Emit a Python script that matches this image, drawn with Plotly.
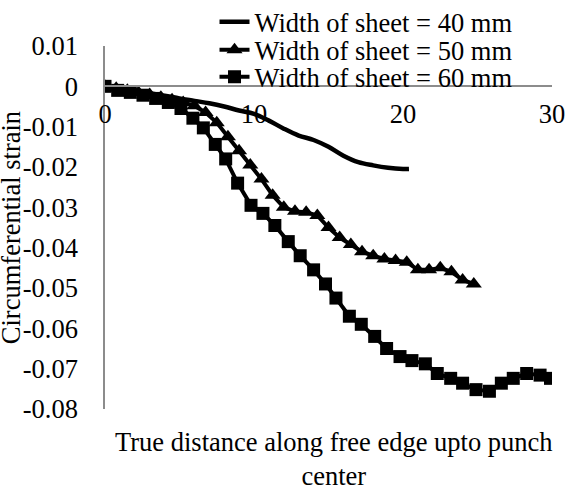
import plotly.graph_objects as go

# ---- data ----
x40 = [0, 1, 2, 3, 4, 5, 6, 7, 8, 9, 10, 11, 12, 13, 14, 15, 16, 17, 18, 19, 20, 20.4]
y40 = [0, -0.0005, -0.001, -0.0017, -0.0023, -0.003, -0.0036, -0.0042, -0.005, -0.006,
       -0.0068, -0.0085, -0.0105, -0.0122, -0.0133, -0.015, -0.0172, -0.0188, -0.0196,
       -0.0202, -0.0205, -0.0205]

x50 = [0, 0.75, 1.5, 2.25, 3, 3.75, 4.5, 5.25, 6, 6.75, 7.5, 8.25, 9, 9.75, 10.5, 11.25,
       12, 12.75, 13.5, 14.25, 15, 15.75, 16.5, 17.25, 18, 18.75, 19.5, 20.25, 21, 21.75,
       22.5, 23.25, 24, 24.75]
y50 = [0, -0.0005, -0.001, -0.0015, -0.002, -0.0027, -0.0033, -0.004, -0.0048, -0.0065,
       -0.009, -0.0125, -0.016, -0.0195, -0.023, -0.027, -0.0300, -0.0310, -0.0312, -0.0320,
       -0.0350, -0.0375, -0.0392, -0.0410, -0.042, -0.0428, -0.0432, -0.0436, -0.0455,
       -0.0455, -0.045, -0.046, -0.048, -0.049]

x60 = [0, 0.85, 1.7, 2.55, 3.4, 4.25, 5.1, 5.9, 6.6, 7.4, 8.1, 8.9, 9.8, 10.6, 11.4, 12.3,
       13.1, 14.0, 14.8, 15.5, 16.4, 17.2, 18.1, 18.9, 19.8, 20.6, 21.5, 22.3, 23.2, 24.0,
       24.9, 25.8, 26.6, 27.4, 28.3, 29.2, 29.9]
y60 = [0, -0.001, -0.0015, -0.0022, -0.003, -0.004, -0.0055, -0.0079, -0.0103, -0.0144,
       -0.0180, -0.0240, -0.0295, -0.0315, -0.0345, -0.0385, -0.0420, -0.0455, -0.0490,
       -0.0525, -0.0570, -0.0590, -0.0620, -0.0650, -0.0670, -0.0680, -0.0688, -0.0712,
       -0.0724, -0.0736, -0.0752, -0.0756, -0.0736, -0.0724, -0.0712, -0.0716, -0.0724]

names = ["Width of sheet = 40 mm", "Width of sheet = 50 mm", "Width of sheet = 60 mm"]
ytick_vals = [0.01, 0, -0.01, -0.02, -0.03, -0.04, -0.05, -0.06, -0.07, -0.08]
ytick_text = ["0.01", "0", "-0.01", "-0.02", "-0.03", "-0.04", "-0.05", "-0.06", "-0.07", "-0.08"]
xtick_vals = [0, 10, 20, 30]

FONT = "Liberation Serif, Times New Roman, serif"
FS = 26.5

fig = go.Figure()
fig.add_trace(go.Scatter(x=x40, y=y40, mode="lines", name=names[0], legend="legend",
                         line=dict(color="black", width=4.5, shape="spline")))
fig.add_trace(go.Scatter(x=x50, y=y50, mode="lines+markers", name=names[1], legend="legend2",
                         line=dict(color="black", width=4),
                         marker=dict(symbol="triangle-up", size=14, color="black")))
fig.add_trace(go.Scatter(x=x60, y=y60, mode="lines+markers", name=names[2], legend="legend3",
                         line=dict(color="black", width=4),
                         marker=dict(symbol="square", size=13, color="black")))

y_range = [-0.08, 0.01]
plot_top, plot_bottom = 46, 409

def py(pix):
    return (plot_bottom - pix) / (plot_bottom - plot_top)

leg_common = dict(x=0.245, xanchor="left", yanchor="middle", bgcolor="rgba(0,0,0,0)",
                  font=dict(size=FS), borderwidth=0)

fig.update_layout(
    width=568, height=490,
    margin=dict(l=105, r=16, t=plot_top, b=490 - plot_bottom, autoexpand=False),
    paper_bgcolor="white", plot_bgcolor="white",
    font=dict(family=FONT, size=FS, color="black"),
    showlegend=True,
    legend=dict(y=py(22), **leg_common),
    legend2=dict(y=py(50), **leg_common),
    legend3=dict(y=py(77), **leg_common),
    xaxis=dict(range=[0, 30], tickvals=xtick_vals, showgrid=False, zeroline=False,
               showline=True, linecolor="#8c8c8c", linewidth=1.5, ticks="",
               anchor="free", position=(0 - y_range[0]) / (y_range[1] - y_range[0]),
               ticklabelstandoff=4, tickfont=dict(size=FS)),
    yaxis=dict(range=y_range, tickvals=ytick_vals, ticktext=ytick_text, showgrid=False,
               zeroline=False, showline=True, linecolor="#8c8c8c", linewidth=1.5,
               ticks="", ticklabelstandoff=20, tickfont=dict(size=FS)),
    annotations=[
        dict(text="Circumferential strain", textangle=-90, xref="paper", yref="paper",
             x=-0.211, y=0.5, xanchor="center", yanchor="middle", showarrow=False,
             font=dict(size=FS)),
        dict(text="True distance along free edge upto punch<br>center", xref="paper",
             yref="paper", x=0.512, y=-0.137, xanchor="center", yanchor="middle",
             showarrow=False, font=dict(size=FS)),
    ],
)

fig.write_html("out.html")
